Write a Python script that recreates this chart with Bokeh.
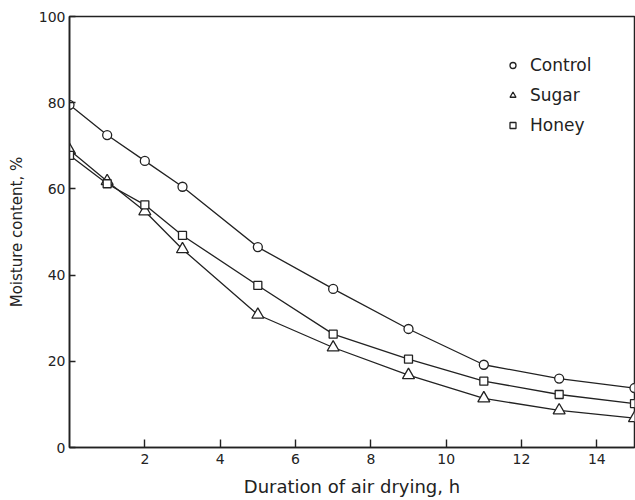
from bokeh.plotting import figure
from bokeh.models import Range1d, FixedTicker, Legend, LegendItem
from bokeh.embed import file_html
from bokeh.resources import INLINE

hours = [0, 1, 2, 3, 5, 7, 9, 11, 13, 15]
control = [79.5, 72.5, 66.5, 60.5, 46.5, 36.8, 27.5, 19.2, 16.0, 13.8]
sugar = [69.0, 61.8, 54.8, 46.0, 30.8, 23.2, 16.8, 11.4, 8.6, 6.8]
honey = [67.8, 61.2, 56.3, 49.2, 37.6, 26.3, 20.5, 15.4, 12.3, 10.2]
x_ticks = [2, 4, 6, 8, 10, 12, 14]
y_ticks = [0, 20, 40, 60, 80, 100]

FONT = "DejaVu Sans"

p = figure(width=635, height=500, output_backend="svg", toolbar_location=None,
           x_range=Range1d(0, 15), y_range=Range1d(0, 100),
           min_border_left=69, min_border_right=1, min_border_top=16, min_border_bottom=53)
p.grid.visible = False
p.background_fill_color = "white"
p.border_fill_color = "white"
p.outline_line_color = "#222222"
p.outline_line_width = 1.5

for ax in (p.xaxis[0], p.yaxis[0]):
    ax.axis_line_color = "#222222"
    ax.axis_line_width = 1.6
    ax.major_tick_line_color = "#222222"
    ax.major_tick_line_width = 1.4
    ax.major_tick_in = 8
    ax.major_tick_out = 0
    ax.minor_tick_line_color = None
    ax.major_label_text_font = FONT
    ax.major_label_text_font_size = "14px"
    ax.major_label_text_color = "#222222"
    ax.axis_label_text_font = FONT
    ax.axis_label_text_font_style = "normal"
    ax.axis_label_text_color = "#222222"

p.xaxis.ticker = FixedTicker(ticks=x_ticks)
p.yaxis.ticker = FixedTicker(ticks=y_ticks)
p.yaxis.major_tick_in = 6
p.xaxis.major_label_standoff = 6
p.yaxis.major_label_standoff = 4
p.xaxis.axis_label = "Duration of air drying, h"
p.yaxis.axis_label = "Moisture content, %"
p.xaxis.axis_label_text_font_size = "18px"
p.yaxis.axis_label_text_font_size = "15px"
p.xaxis.axis_label_standoff = 9
p.yaxis.axis_label_standoff = 10

lw = 1.3
col = "#222222"
p.line(hours, control, line_color=col, line_width=lw)
p.line(hours, sugar, line_color=col, line_width=lw)
p.line(hours, honey, line_color=col, line_width=lw)
rc = p.scatter(hours, control, marker="circle", size=9, fill_color="white", line_color=col, line_width=lw)
rs = p.scatter(hours, sugar, marker="triangle", size=12, fill_color="white", line_color=col, line_width=lw)
rh = p.scatter(hours, honey, marker="square", size=8, fill_color="white", line_color=col, line_width=lw)

legend = Legend(items=[LegendItem(label="Control", renderers=[rc]),
                       LegendItem(label="Sugar", renderers=[rs]),
                       LegendItem(label="Honey", renderers=[rh])],
                location=(436, 307), orientation="vertical",
                background_fill_alpha=0, border_line_color=None,
                glyph_width=15, glyph_height=30, label_height=30, spacing=0,
                padding=0, margin=0, label_standoff=10,
                label_text_font=FONT, label_text_font_size="17px", label_text_color="#222222")
p.add_layout(legend)

open("out.html", "w").write(file_html(p, INLINE))
